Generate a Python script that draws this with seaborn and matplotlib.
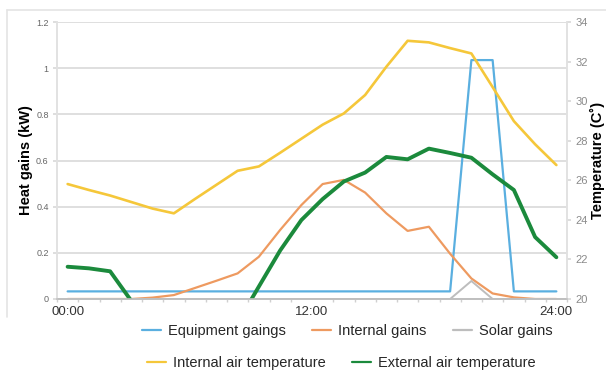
import numpy as np
import pandas as pd
import matplotlib
matplotlib.use("Agg")
import matplotlib.pyplot as plt
from matplotlib.lines import Line2D
import seaborn as sns

# ---- data (hourly, 24 points) ----
hours = list(range(24))
equipment_gains = [0.033] * 19 + [1.035, 1.035] + [0.033] * 3
internal_gains = [0, 0, 0, 0, 0.006, 0.017, 0.048, 0.079, 0.111, 0.183, 0.299, 0.407,
                  0.498, 0.516, 0.461, 0.371, 0.295, 0.313, 0.196, 0.089, 0.024, 0.007, 0, 0]
solar_gains = [0] * 19 + [0.078] + [0] * 4
internal_air_temp = [25.81, 25.51, 25.23, 24.90, 24.57, 24.33, 25.06, 25.77, 26.48, 26.70,
                     27.39, 28.10, 28.81, 29.38, 30.31, 31.74, 33.05, 32.97, 32.68, 32.41,
                     30.71, 28.99, 27.82, 26.77]
external_air_temp = [21.63, 21.55, 21.40, 19.9, 19.2, 18.7, 18.4, 18.5, 18.8, 20.63,
                     22.45, 23.99, 25.05, 25.94, 26.39, 27.18, 27.06, 27.60, 27.38, 27.14,
                     26.30, 25.51, 23.13, 22.11]
x_tick_pos = [0, 11.5, 23]
x_tick_labels = ["00:00", "12:00", "24:00"]
left_ticks = [0, 0.2, 0.4, 0.6, 0.8, 1.0, 1.2]
left_tick_labels = ["0", "0.2", "0.4", "0.6", "0.8", "1", "1.2"]
right_ticks = [20, 22, 24, 26, 28, 30, 32, 34]

c_blue = "#5aafe0"
c_orange = "#ee9a60"
c_gray = "#bdbdbd"
c_yellow = "#f5c73a"
c_green = "#1b8a3c"

sns.set_theme(style="white")
plt.rcParams["font.family"] = ["Liberation Sans", "DejaVu Sans"]

df = pd.DataFrame({"hour": hours, "equip": equipment_gains, "internal": internal_gains,
                   "solar": solar_gains, "tin": internal_air_temp, "tout": external_air_temp})

fig = plt.figure(figsize=(6.06, 3.73), dpi=100)
ax = fig.add_axes([57/606, 1-299/373, 510/606, 277/373])
ax2 = ax.twinx()

sns.lineplot(data=df, x="hour", y="equip", ax=ax, color=c_blue, lw=1.6, label="Equipment gaings", legend=False)
sns.lineplot(data=df, x="hour", y="internal", ax=ax, color=c_orange, lw=1.6, label="Internal gains", legend=False)
sns.lineplot(data=df, x="hour", y="solar", ax=ax, color=c_gray, lw=1.4, label="Solar gains", legend=False)
sns.lineplot(data=df, x="hour", y="tin", ax=ax2, color=c_yellow, lw=1.9, label="Internal air temperature", legend=False)
sns.lineplot(data=df, x="hour", y="tout", ax=ax2, color=c_green, lw=2.8, label="External air temperature", legend=False)

ax.set_xlim(-0.5, 23.5)
ax.set_ylim(0, 1.2)
ax2.set_ylim(20, 34)
ax.set_yticks(left_ticks)
ax.set_yticklabels(left_tick_labels)
ax2.set_yticks(right_ticks)
ax2.set_yticklabels([str(t) for t in right_ticks])
ax.set_xticks(x_tick_pos)
ax.set_xticklabels(x_tick_labels)
ax.set_xticks(np.arange(-0.5, 24, 1), minor=True)

ax.grid(axis="y", color="#dcdcdc", lw=1.3)
ax.grid(axis="x", visible=False)
ax2.grid(False)
ax.set_axisbelow(True)

for a in (ax, ax2):
    a.spines["top"].set_visible(False)
    a.spines["left"].set_color("#e2e2e2")
    a.spines["right"].set_color("#e2e2e2")
    a.spines["bottom"].set_color("#bfbfbf")
    a.spines["bottom"].set_linewidth(1.2)

ax.tick_params(axis="y", labelsize=6.5, labelcolor="#666666", length=3, color="#d9d9d9", left=True, pad=3)
ax.tick_params(axis="x", which="major", labelsize=9.5, labelcolor="#333333", length=0, pad=5)
ax.tick_params(axis="x", which="minor", length=2.5, color="#d0d0d0", bottom=True)
ax2.tick_params(axis="y", labelsize=8, labelcolor="#8a8a8a", length=3, color="#d9d9d9", right=True, pad=3)

ax.set_xlabel("")
ax.set_ylabel("Heat gains (kW)", fontsize=10.5, fontweight="bold", color="black")
ax2.set_ylabel("Temperature (C˚)", fontsize=10.5, fontweight="bold", color="black")
ax.yaxis.set_label_coords(-0.047, 0.5)
ax2.yaxis.set_label_coords(1.045, 0.5)

# legends (two centered rows)
h1 = [Line2D([], [], color=c_blue, lw=1.6), Line2D([], [], color=c_orange, lw=1.6),
      Line2D([], [], color=c_gray, lw=1.6)]
l1 = ["Equipment gaings", "Internal gains", "Solar gains"]
h2 = [Line2D([], [], color=c_yellow, lw=1.6), Line2D([], [], color=c_green, lw=1.6)]
l2 = ["Internal air temperature", "External air temperature"]
kw = dict(frameon=False, fontsize=10.5, handlelength=1.3, handletextpad=0.5,
          columnspacing=1.8, borderaxespad=0, labelcolor="#262626")
leg1 = fig.legend(h1, l1, ncol=3, loc="center", bbox_to_anchor=(0.573, 1-331/373), **kw)
leg2 = fig.legend(h2, l2, ncol=2, loc="center", bbox_to_anchor=(0.563, 1-363/373), **kw)

# faint chart frame (top and left)
fig.add_artist(Line2D([7/606, 1], [1-10/373, 1-10/373], color="#e4e4e4", lw=1.2, transform=fig.transFigure))
fig.add_artist(Line2D([7/606, 7/606], [1-10/373, 1-317/373], color="#e4e4e4", lw=1.2, transform=fig.transFigure))

fig.savefig("out.png", dpi=100)
